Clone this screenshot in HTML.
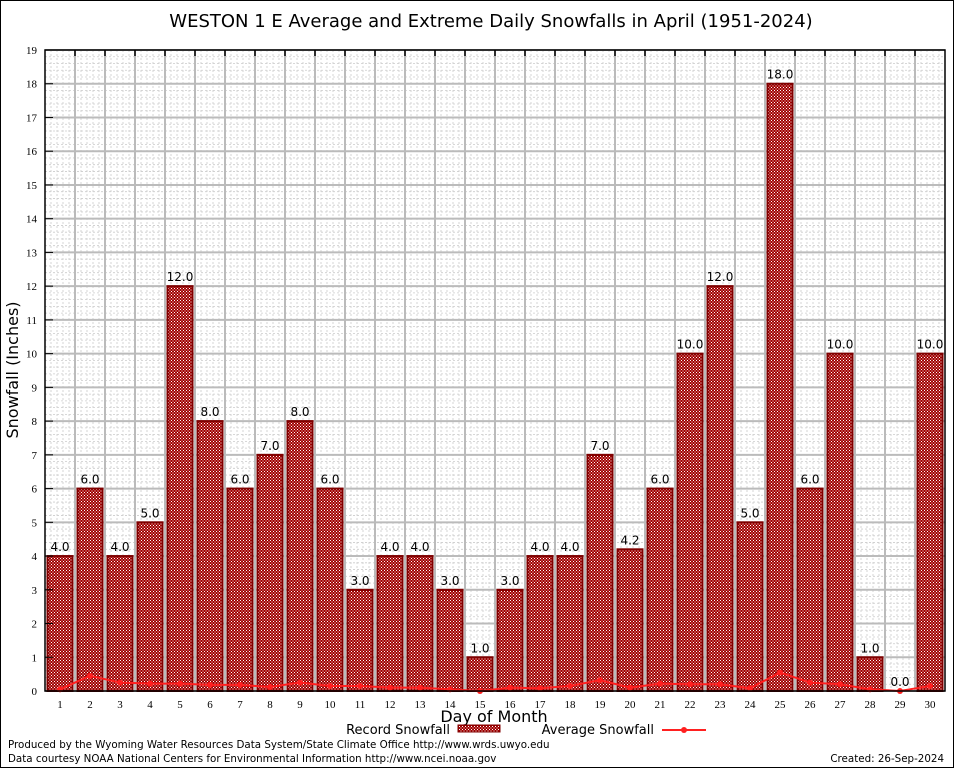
<!DOCTYPE html>
<html><head><meta charset="utf-8"><style>
body{margin:0;background:#fff;}
svg{display:block;font-family:"DejaVu Sans","Liberation Sans",sans-serif;}
</style></head><body>
<svg id="chart" width="954" height="768">
<defs>
<pattern id="dots" width="3" height="3" patternUnits="userSpaceOnUse">
<rect width="3" height="3" fill="#a00000"/>
<rect x="0" y="0" width="1" height="1" fill="#fff"/>
<rect x="1.5" y="1.5" width="1" height="1" fill="#fff"/>
</pattern>
</defs>
<rect x="0.5" y="0.5" width="953" height="767" fill="#fff" stroke="#000"/>
<text x="491" y="27" text-anchor="middle" font-size="18">WESTON 1 E Average and Extreme Daily Snowfalls in April (1951-2024)</text>
<g id="grid"></g>
<g id="bars"></g>
<g id="avg"></g>
<g id="axes"></g>
<text x="18" y="370" transform="rotate(-90 18 370)" text-anchor="middle" font-size="16">Snowfall (Inches)</text>
<text x="494" y="722" text-anchor="middle" font-size="16">Day of Month</text>
<g>
<text x="450" y="734" text-anchor="end" font-size="13">Record Snowfall</text>
<rect x="458" y="725" width="42" height="7" fill="url(#dots)" stroke="#800000"/>
<text x="654" y="734" text-anchor="end" font-size="13">Average Snowfall</text>
<line x1="662" y1="730" x2="706" y2="730" stroke="#ff2020" stroke-width="2"/>
<circle cx="684" cy="730" r="3" fill="#ff2020"/>
</g>
<text x="8" y="748" font-size="10.3">Produced by the Wyoming Water Resources Data System/State Climate Office http://www.wrds.uwyo.edu</text>
<text x="8" y="762" font-size="10.3">Data courtesy NOAA National Centers for Environmental Information http://www.ncei.noaa.gov</text>
<text x="944" y="762" text-anchor="end" font-size="10.3">Created: 26-Sep-2024</text>
</svg>
<script>
const days=[1,2,3,4,5,6,7,8,9,10,11,12,13,14,15,16,17,18,19,20,21,22,23,24,25,26,27,28,29,30];
const recordSnow=[4,6,4,5,12,8,6,7,8,6,3,4,4,3,1,3,4,4,7,4.2,6,10,12,5,18,6,10,1,0,10];
const avgSnow=[0.05,0.45,0.25,0.22,0.22,0.18,0.18,0.12,0.25,0.15,0.15,0.1,0.1,0.05,0.0,0.1,0.08,0.15,0.32,0.1,0.22,0.2,0.2,0.08,0.55,0.25,0.2,0.05,0.0,0.15];
const yTicks=[0,1,2,3,4,5,6,7,8,9,10,11,12,13,14,15,16,17,18,19];
const NS='http://www.w3.org/2000/svg';
const L=45,R=945,T=50,B=691,yMax=19;
const xs=d=>L+(R-L)/days.length*(d-0.5);
const ys=v=>B-(B-T)*v/yMax;
function mk(tag,attrs,parent,text){const e=document.createElementNS(NS,tag);for(const k in attrs)e.setAttribute(k,attrs[k]);if(text!==undefined)e.textContent=text;parent.appendChild(e);return e;}
const grid=document.getElementById('grid'),bars=document.getElementById('bars'),avg=document.getElementById('avg'),axes=document.getElementById('axes');
const step=(R-L)/days.length;
for(let v=0;v<yMax;v+=0.2){const y=ys(v);if(Math.abs(v-Math.round(v))<1e-6)continue;const l=mk('line',{x1:L,x2:R,y1:y,y2:y,stroke:'#ccc','stroke-dasharray':'2,2','stroke-width':0.8},grid);

}
for(let x=L;x<R;x+=step/5){const l=mk('line',{x1:x,x2:x,y1:T,y2:B,stroke:'#ccc','stroke-dasharray':'2,2','stroke-width':0.8},grid);

}
yTicks.forEach(v=>{const y=ys(v);const l=mk('line',{x1:L,x2:R,y1:y,y2:y,stroke:'#bbb','stroke-width':2},grid);


const t=mk('text',{x:L-8,y:y+4,'text-anchor':'end','font-size':11,'font-family':'Liberation Serif,serif'},axes,v);


const tk=mk('line',{x1:L,x2:L+8,y1:y,y2:y,stroke:'#000'},axes);

});
for(let i=1;i<days.length;i++){const x=L+step*i;const l=mk('line',{x1:x,x2:x,y1:T,y2:B,stroke:'#bbb','stroke-width':2},grid);


const tk=mk('line',{x1:x,x2:x,y1:T,y2:T+6,stroke:'#000','stroke-width':1.5},axes);

}
days.forEach((d,i)=>{const x=xs(d),v=recordSnow[i],y=ys(v);
if(v>0){const r=mk('rect',{x:x-12.5,y:y,width:25,height:B-y,fill:'url(#dots)',stroke:'#800000','stroke-width':2},bars);

}
const t=mk('text',{x:x,y:y-5,'text-anchor':'middle','font-size':12},bars,v.toFixed(1));


const xl=mk('text',{x:x,y:B+17,'text-anchor':'middle','font-size':11,'font-family':'Liberation Serif,serif'},axes,d);

});
const pts=days.map((d,i)=>xs(d)+','+ys(avgSnow[i])).join(' ');
const pl=mk('polyline',{points:pts,fill:'none',stroke:'#ff2020','stroke-width':2},avg);


days.forEach((d,i)=>{const c=mk('circle',{cx:xs(d),cy:ys(avgSnow[i]),r:3,fill:'#ff2020'},avg);

});
const fr=mk('rect',{x:L,y:T,width:R-L,height:B-T,fill:'none',stroke:'#000','stroke-width':1.5},axes);


</script>
</body></html>
